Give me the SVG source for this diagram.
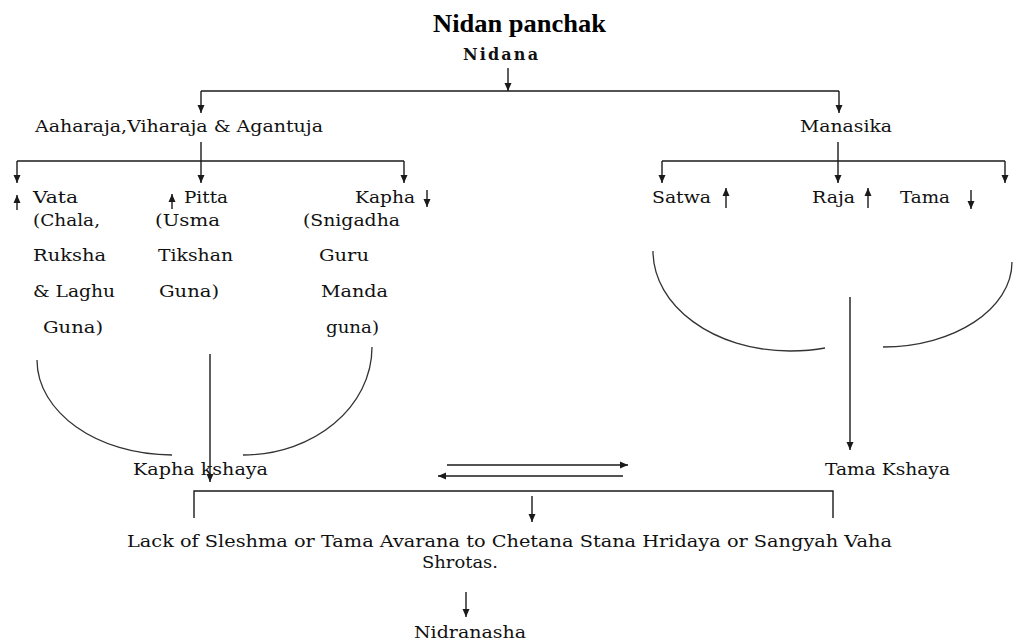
<svg xmlns="http://www.w3.org/2000/svg" width="1014" height="644" viewBox="0 0 1014 644">
<style>
text{font-family:"DejaVu Serif","Liberation Serif",serif;font-size:17px;fill:#111}
.t{font-family:"Liberation Serif","Times New Roman",serif;font-size:26px;font-weight:bold;fill:#000}
.b{font-size:16px;font-weight:bold}
.c{stroke:#1a1a1a;stroke-width:1.4;fill:none}
.a{stroke:#1a1a1a;stroke-width:1.4;fill:none;marker-end:url(#ah)}
.arc{stroke:#333;stroke-width:1.3;fill:none}
</style>
<defs>
<marker id="ah" markerUnits="userSpaceOnUse" markerWidth="9" markerHeight="9" refX="8" refY="4" orient="auto">
<path d="M0,0.5 L8,4 L0,7.5 z" fill="#1a1a1a"/>
</marker>
</defs>
<rect width="1014" height="644" fill="#fff"/>
<g id="title"><text class="t" x="433" y="32" textLength="173" lengthAdjust="spacingAndGlyphs">Nidan panchak</text></g>
<g id="nidana"><text class="b" x="463" y="60" textLength="75" lengthAdjust="spacing">Nidana</text></g>
<g id="aaharaja"><text x="35" y="132" textLength="288" lengthAdjust="spacingAndGlyphs">Aaharaja,Viharaja &amp; Agantuja</text></g>
<g id="manasika"><text x="800" y="132" textLength="92" lengthAdjust="spacingAndGlyphs">Manasika</text></g>
<g id="vata">
<text x="33" y="203" textLength="45" lengthAdjust="spacingAndGlyphs">Vata</text>
<text x="33" y="226" textLength="67" lengthAdjust="spacingAndGlyphs">(Chala,</text>
<text x="33" y="261" textLength="73" lengthAdjust="spacingAndGlyphs">Ruksha</text>
<text x="33" y="297" textLength="82" lengthAdjust="spacingAndGlyphs">&amp; Laghu</text>
<text x="43" y="333" textLength="60" lengthAdjust="spacingAndGlyphs">Guna)</text>
</g>
<g id="pitta">
<text x="184" y="203" textLength="44" lengthAdjust="spacingAndGlyphs">Pitta</text>
<text x="155" y="226" textLength="65" lengthAdjust="spacingAndGlyphs">(Usma</text>
<text x="158" y="261" textLength="75" lengthAdjust="spacingAndGlyphs">Tikshan</text>
<text x="159" y="297" textLength="60" lengthAdjust="spacingAndGlyphs">Guna)</text>
</g>
<g id="kapha">
<text x="355" y="203" textLength="60" lengthAdjust="spacingAndGlyphs">Kapha</text>
<text x="303" y="226" textLength="97" lengthAdjust="spacingAndGlyphs">(Snigadha</text>
<text x="319" y="261" textLength="50" lengthAdjust="spacingAndGlyphs">Guru</text>
<text x="321" y="297" textLength="67" lengthAdjust="spacingAndGlyphs">Manda</text>
<text x="326" y="333" textLength="53" lengthAdjust="spacingAndGlyphs">guna)</text>
</g>
<g id="satwa"><text x="652" y="203" textLength="59" lengthAdjust="spacingAndGlyphs">Satwa</text></g>
<g id="raja"><text x="812" y="203" textLength="43" lengthAdjust="spacingAndGlyphs">Raja</text></g>
<g id="tama"><text x="900" y="203" textLength="50" lengthAdjust="spacingAndGlyphs">Tama</text></g>
<g id="kapha-kshaya"><text x="133" y="475" textLength="135" lengthAdjust="spacingAndGlyphs">Kapha kshaya</text></g>
<g id="tama-kshaya"><text x="825" y="475" textLength="125" lengthAdjust="spacingAndGlyphs">Tama Kshaya</text></g>
<g id="lack">
<text x="127" y="547" textLength="765" lengthAdjust="spacingAndGlyphs">Lack of  Sleshma or Tama Avarana to Chetana Stana Hridaya or Sangyah Vaha</text>
<text x="422" y="568" textLength="76" lengthAdjust="spacingAndGlyphs">Shrotas.</text>
</g>
<g id="nidranasha"><text x="414" y="638" textLength="112" lengthAdjust="spacingAndGlyphs">Nidranasha</text></g>
<g id="connectors">
<path class="a" d="M508,68 V91"/>
<path class="c" d="M201,91 H839"/>
<path class="a" d="M201,91 V113"/>
<path class="a" d="M839,91 V113"/>
<path class="a" d="M201,142 V183"/>
<path class="c" d="M17,161 H404"/>
<path class="a" d="M17,161 V183"/>
<path class="a" d="M404,161 V183"/>
<path class="a" d="M838,142 V183"/>
<path class="c" d="M662,161 H1005"/>
<path class="a" d="M662,161 V183"/>
<path class="a" d="M1005,161 V183"/>
<path class="a" d="M17,210 V195"/>
<path class="a" d="M172,209 V194"/>
<path class="a" d="M427,190 V207"/>
<path class="a" d="M726,208 V188"/>
<path class="a" d="M868,208 V188"/>
<path class="a" d="M971,190 V209"/>
<path class="arc" d="M37,360 C37,412 97,455 172,455"/>
<path class="arc" d="M372,347 C372,407 314,455 243,455"/>
<path class="a" d="M210,354 V482"/>
<path class="arc" d="M653,251 C653,306 714,351 790,351 C805,351 815,350 825,348"/>
<path class="arc" d="M1012,262 C1012,309 954,347 883,347"/>
<path class="a" d="M850,297 V450"/>
<path class="a" d="M447,465 H628"/>
<path class="a" d="M623,476 H438"/>
<path class="c" d="M194,518 V491 H833 V518"/>
<path class="a" d="M532,496 V522"/>
<path class="a" d="M466,592 V617"/>
</g>
</svg>
